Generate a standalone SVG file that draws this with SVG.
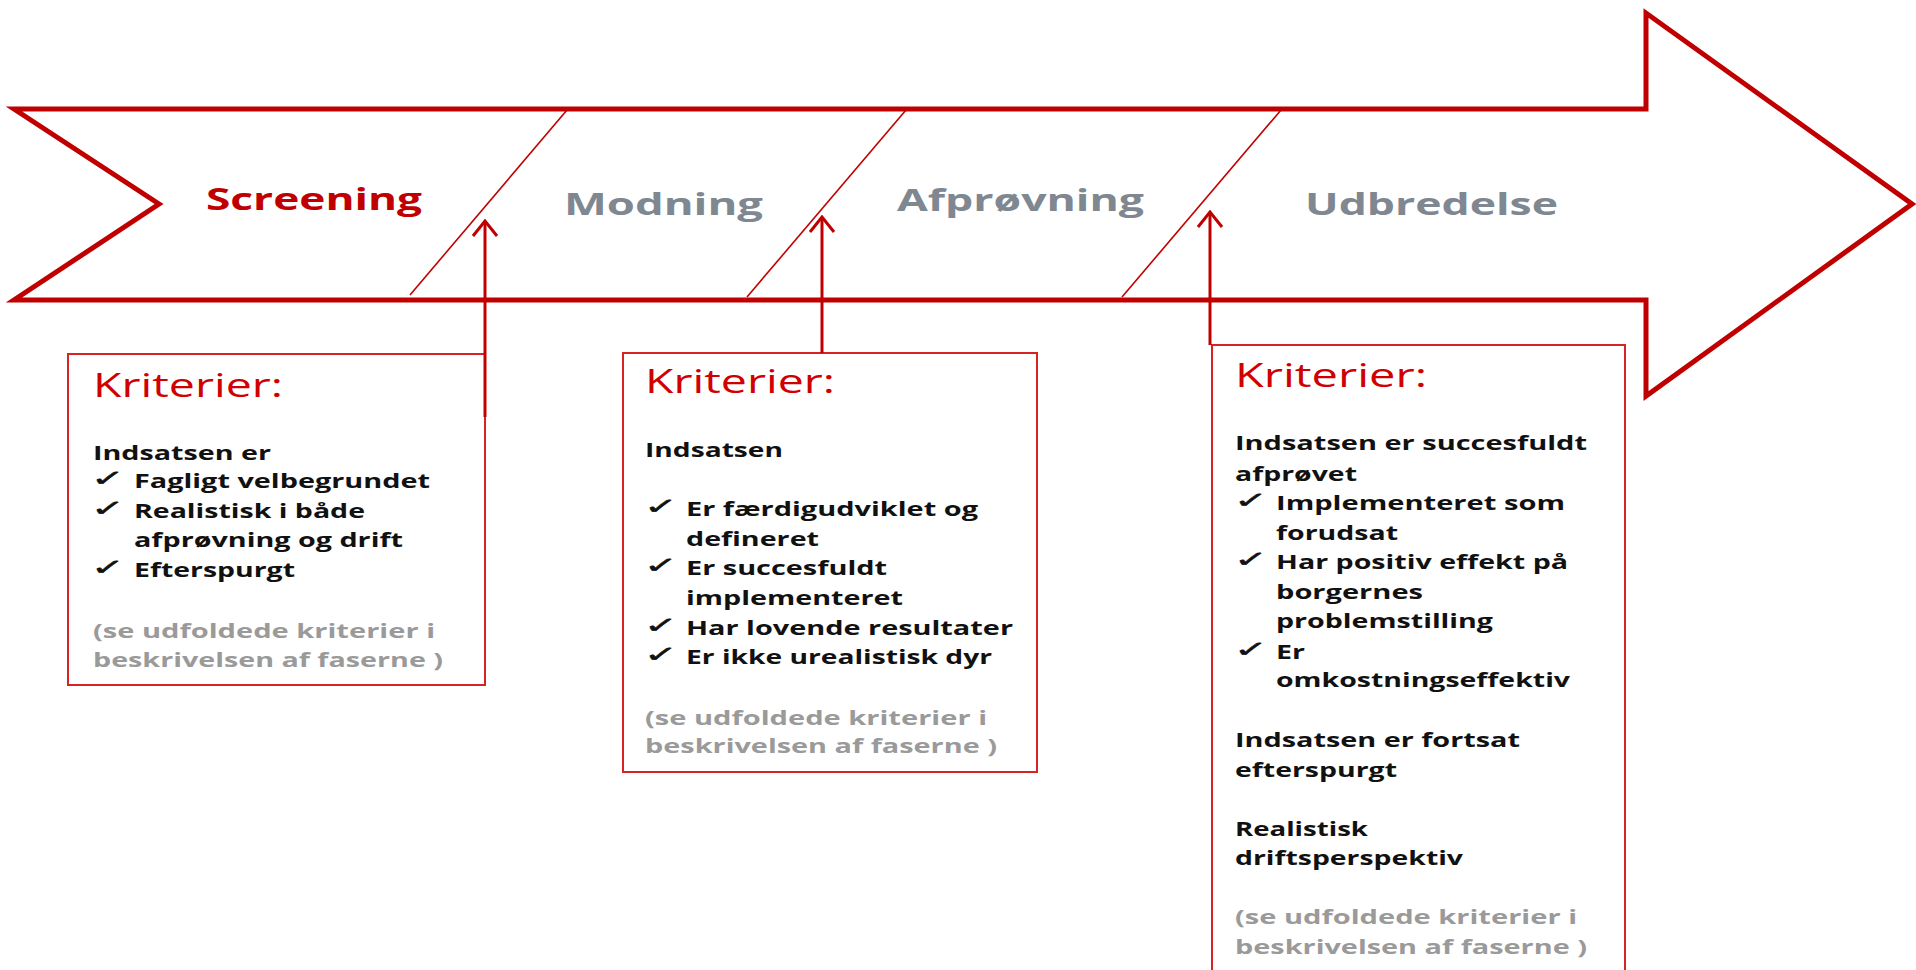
<svg xmlns="http://www.w3.org/2000/svg" width="1916" height="970" viewBox="0 0 1916 970">
<defs>
<style>
.outline{fill:none;stroke:#C00000;stroke-width:5;stroke-linejoin:miter}
.div{fill:none;stroke:#C00000;stroke-width:1.6}
.conn{fill:none;stroke:#C00000;stroke-width:3}
.box{fill:#FFFFFF;stroke:#D42424;stroke-width:2}
.phase{font-family:"Open Sans","DejaVu Sans",sans-serif;font-weight:700;font-size:30px}
.red{fill:#C00000}
.gph{fill:#7F8791}
.head{font-family:"Open Sans","DejaVu Sans",sans-serif;font-size:32px;fill:#D00000}
.body{font-family:"Open Sans","DejaVu Sans",sans-serif;font-weight:700;font-size:20px;fill:#111111}
.note{font-family:"Open Sans","DejaVu Sans",sans-serif;font-weight:700;font-size:20px;fill:#9A9A9A}
.chk{font-family:"DejaVu Sans",sans-serif;font-size:30px;fill:#111111;stroke:#111111;stroke-width:0.7}
</style>
<marker id="ah" viewBox="0 0 20 30" refX="18" refY="15" markerWidth="20" markerHeight="30" markerUnits="userSpaceOnUse" orient="auto">
<path d="M3,3 L18,15 L3,27" fill="none" stroke="#C00000" stroke-width="3"/>
</marker>
</defs>
<rect x="0" y="0" width="1916" height="970" fill="#FFFFFF"/>

<g id="process-arrow">
<polygon class="outline" points="14,109 1646,109 1646,13 1912,204 1646,396 1646,300 14,300 159,204"/>
<line class="div" x1="567" y1="110" x2="410" y2="295"/>
<line class="div" x1="906" y1="110" x2="747" y2="297"/>
<line class="div" x1="1281" y1="110" x2="1122" y2="297"/>
<text class="phase red" x="206" y="210" textLength="216" lengthAdjust="spacingAndGlyphs">Screening</text>
<text class="phase gph" x="564" y="215" textLength="199" lengthAdjust="spacingAndGlyphs">Modning</text>
<text class="phase gph" x="897" y="211" textLength="247" lengthAdjust="spacingAndGlyphs">Afprøvning</text>
<text class="phase gph" x="1305" y="215" textLength="253" lengthAdjust="spacingAndGlyphs">Udbredelse</text>
</g>

<g id="box1">
<rect class="box" x="68" y="354" width="417" height="331"/>
<text class="head" x="93" y="397" textLength="190" lengthAdjust="spacingAndGlyphs">Kriterier:</text>
<text class="body" x="93" y="460" textLength="178" lengthAdjust="spacingAndGlyphs">Indsatsen er</text>
<g transform="translate(91,486) scale(1.35,0.75)"><text class="chk">✓</text></g>
<text class="body" x="134" y="488" textLength="296" lengthAdjust="spacingAndGlyphs">Fagligt velbegrundet</text>
<g transform="translate(91,516) scale(1.35,0.75)"><text class="chk">✓</text></g>
<text class="body" x="134" y="518" textLength="231" lengthAdjust="spacingAndGlyphs">Realistisk i både</text>
<text class="body" x="134" y="547" textLength="269" lengthAdjust="spacingAndGlyphs">afprøvning og drift</text>
<g transform="translate(91,575) scale(1.35,0.75)"><text class="chk">✓</text></g>
<text class="body" x="134" y="577" textLength="161" lengthAdjust="spacingAndGlyphs">Efterspurgt</text>
<text class="note" x="93" y="638" textLength="342" lengthAdjust="spacingAndGlyphs">(se udfoldede kriterier i</text>
<text class="note" x="93" y="667" textLength="350" lengthAdjust="spacingAndGlyphs">beskrivelsen af faserne )</text>
</g>

<g id="box2">
<rect class="box" x="623" y="353" width="414" height="419"/>
<text class="head" x="645" y="393" textLength="190" lengthAdjust="spacingAndGlyphs">Kriterier:</text>
<text class="body" x="645" y="457" textLength="138" lengthAdjust="spacingAndGlyphs">Indsatsen</text>
<g transform="translate(644,514) scale(1.35,0.75)"><text class="chk">✓</text></g>
<text class="body" x="686" y="516" textLength="292" lengthAdjust="spacingAndGlyphs">Er færdigudviklet og</text>
<text class="body" x="686" y="546" textLength="133" lengthAdjust="spacingAndGlyphs">defineret</text>
<g transform="translate(644,573) scale(1.35,0.75)"><text class="chk">✓</text></g>
<text class="body" x="686" y="575" textLength="201" lengthAdjust="spacingAndGlyphs">Er succesfuldt</text>
<text class="body" x="686" y="605" textLength="217" lengthAdjust="spacingAndGlyphs">implementeret</text>
<g transform="translate(644,633) scale(1.35,0.75)"><text class="chk">✓</text></g>
<text class="body" x="686" y="635" textLength="327" lengthAdjust="spacingAndGlyphs">Har lovende resultater</text>
<g transform="translate(644,662) scale(1.35,0.75)"><text class="chk">✓</text></g>
<text class="body" x="686" y="664" textLength="306" lengthAdjust="spacingAndGlyphs">Er ikke urealistisk dyr</text>
<text class="note" x="645" y="725" textLength="342" lengthAdjust="spacingAndGlyphs">(se udfoldede kriterier i</text>
<text class="note" x="645" y="753" textLength="352" lengthAdjust="spacingAndGlyphs">beskrivelsen af faserne )</text>
</g>

<g id="box3">
<rect class="box" x="1212" y="345" width="413" height="640"/>
<text class="head" x="1235" y="387" textLength="192" lengthAdjust="spacingAndGlyphs">Kriterier:</text>
<text class="body" x="1235" y="450" textLength="352" lengthAdjust="spacingAndGlyphs">Indsatsen er succesfuldt</text>
<text class="body" x="1235" y="481" textLength="122" lengthAdjust="spacingAndGlyphs">afprøvet</text>
<g transform="translate(1234,508) scale(1.35,0.75)"><text class="chk">✓</text></g>
<text class="body" x="1276" y="510" textLength="289" lengthAdjust="spacingAndGlyphs">Implementeret som</text>
<text class="body" x="1276" y="540" textLength="122" lengthAdjust="spacingAndGlyphs">forudsat</text>
<g transform="translate(1234,567) scale(1.35,0.75)"><text class="chk">✓</text></g>
<text class="body" x="1276" y="569" textLength="292" lengthAdjust="spacingAndGlyphs">Har positiv effekt på</text>
<text class="body" x="1276" y="599" textLength="147" lengthAdjust="spacingAndGlyphs">borgernes</text>
<text class="body" x="1276" y="628" textLength="217" lengthAdjust="spacingAndGlyphs">problemstilling</text>
<g transform="translate(1234,657) scale(1.35,0.75)"><text class="chk">✓</text></g>
<text class="body" x="1276" y="659" textLength="29" lengthAdjust="spacingAndGlyphs">Er</text>
<text class="body" x="1276" y="687" textLength="294" lengthAdjust="spacingAndGlyphs">omkostningseffektiv</text>
<text class="body" x="1235" y="747" textLength="285" lengthAdjust="spacingAndGlyphs">Indsatsen er fortsat</text>
<text class="body" x="1235" y="777" textLength="162" lengthAdjust="spacingAndGlyphs">efterspurgt</text>
<text class="body" x="1235" y="836" textLength="133" lengthAdjust="spacingAndGlyphs">Realistisk</text>
<text class="body" x="1235" y="865" textLength="228" lengthAdjust="spacingAndGlyphs">driftsperspektiv</text>
<text class="note" x="1235" y="924" textLength="342" lengthAdjust="spacingAndGlyphs">(se udfoldede kriterier i</text>
<text class="note" x="1235" y="954" textLength="352" lengthAdjust="spacingAndGlyphs">beskrivelsen af faserne )</text>
</g>

<g id="connectors">
<line class="conn" x1="485" y1="417" x2="485" y2="221" marker-end="url(#ah)"/>
<line class="conn" x1="822" y1="353" x2="822" y2="217" marker-end="url(#ah)"/>
<line class="conn" x1="1210" y1="345" x2="1210" y2="212" marker-end="url(#ah)"/>
</g>
</svg>
